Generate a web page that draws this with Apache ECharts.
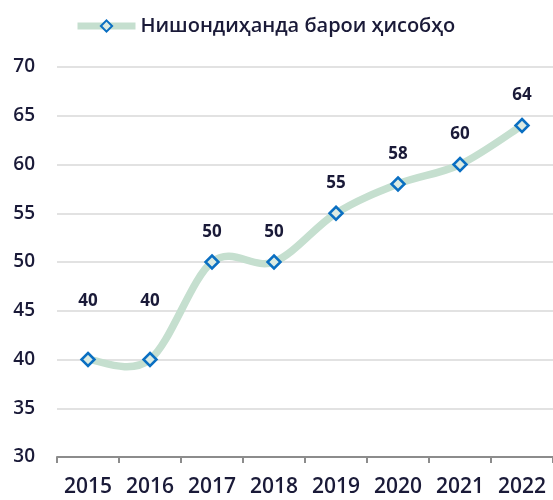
<!DOCTYPE html>
<html>
<head>
<meta charset="utf-8">
<script src="https://cdn.jsdelivr.net/npm/echarts@6/dist/echarts.min.js"></script>
<style>
  html, body { margin: 0; padding: 0; background: #fff; }
  #chart { width: 553px; height: 500px; }
</style>
</head>
<body>
<div id="chart"></div>
<script>
const years = ['2015', '2016', '2017', '2018', '2019', '2020', '2021', '2022'];
const values = [40, 40, 50, 50, 55, 58, 60, 64];
const seriesName = 'Нишондиҳанда барои ҳисобҳо';

const textColor = '#1a1a38';
const lineColor = '#c5dfcf';
const font = '"Open Sans", "Noto Sans", sans-serif';

// Excel-style smooth curve through the points (cardinal spline)
function renderCurve(params, api) {
  const pts = values.map((v, i) => api.coord([i, v]));
  let d = 'M' + pts[0][0] + ' ' + pts[0][1];
  for (let i = 0; i < pts.length - 1; i++) {
    const p0 = pts[Math.max(i - 1, 0)];
    const p1 = pts[i];
    const p2 = pts[i + 1];
    const p3 = pts[Math.min(i + 2, pts.length - 1)];
    const c1 = [p1[0] + (p2[0] - p0[0]) / 6, p1[1] + (p2[1] - p0[1]) / 6];
    const c2 = [p2[0] - (p3[0] - p1[0]) / 6, p2[1] - (p3[1] - p1[1]) / 6];
    d += ' C' + c1[0] + ' ' + c1[1] + ' ' + c2[0] + ' ' + c2[1] + ' ' + p2[0] + ' ' + p2[1];
  }
  return {
    type: 'path',
    shape: { pathData: d },
    style: { fill: 'none', stroke: lineColor, lineWidth: 7.5, lineCap: 'round' },
  };
}

const chart = echarts.init(document.getElementById('chart'));
chart.setOption({
  animation: false,
  legend: {
    top: 11,
    left: 69,
    itemWidth: 58,
    itemHeight: 14,
    itemGap: 4,
    textStyle: { color: textColor, fontSize: 20, fontWeight: 600, fontFamily: font },
    lineStyle: { color: lineColor, width: 7, opacity: 1 },
    data: [seriesName],
  },
  grid: { left: 57, right: 0, top: 67, bottom: 43 },
  xAxis: {
    type: 'category',
    data: years,
    boundaryGap: true,
    axisLine: { lineStyle: { color: '#8c8c8c', width: 2 } },
    axisTick: { show: true, interval: 0, length: 6, lineStyle: { color: '#8c8c8c', width: 2 } },
    axisLabel: { interval: 0, color: textColor, fontSize: 21, fontWeight: 600, fontFamily: font, margin: 20 },
  },
  yAxis: {
    type: 'value',
    min: 30,
    max: 70,
    interval: 5,
    axisLine: { show: false },
    axisTick: { show: false },
    splitLine: { lineStyle: { color: '#d9d9d9', width: 1.5 } },
    axisLabel: { color: textColor, fontSize: 19, fontWeight: 600, fontFamily: font, margin: 22 },
  },
  series: [
    {
      type: 'custom',
      silent: true,
      data: [0],
      renderItem: renderCurve,
      z: 1,
    },
    {
      name: seriesName,
      type: 'line',
      z: 2,
      data: values.map((v, i) => ({
        value: v,
        label: { distance: i < 2 ? 42 : 14 },
      })),
      lineStyle: { color: lineColor, width: 7, opacity: 0 },
      symbol: 'diamond',
      symbolSize: 13,
      itemStyle: { color: '#dcebe2', borderColor: '#0a6fc2', borderWidth: 2.5 },
      label: {
        show: true,
        position: 'top',
        color: textColor,
        fontSize: 17,
        fontWeight: 'bold',
        fontFamily: font,
      },
    },
  ],
});
</script>
</body>
</html>
